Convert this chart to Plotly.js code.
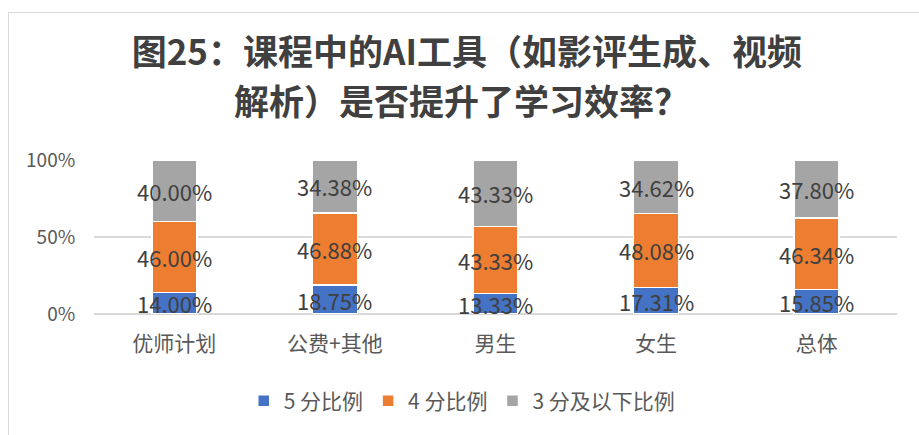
<!DOCTYPE html>
<html>
<head>
<meta charset="utf-8">
<script src="https://cdn.plot.ly/plotly-3.0.1.min.js"></script>
<style>
html,body{margin:0;padding:0;background:#fff;}
#wrap{position:relative;width:919px;height:435px;}
#chart{width:919px;height:435px;}
#frame{position:absolute;left:8px;top:12px;right:-2px;bottom:-2px;border-top:1.5px solid #d9d9d9;border-left:1.5px solid #d9d9d9;pointer-events:none;}
</style>
</head>
<body>
<div id="wrap"><div id="chart"></div><div id="frame"></div></div>
<script>
var categories = ['优师计划', '公费+其他', '男生', '女生', '总体'];
var score5 = [14.00, 18.75, 13.33, 17.31, 15.85];
var score4 = [46.00, 46.88, 43.33, 48.08, 46.34];
var score3 = [40.00, 34.38, 43.33, 34.62, 37.80];
var seriesNames = ['5 分比例', '4 分比例', '3 分及以下比例'];
var seriesColors = ['#4472C4', '#ED7D31', '#A5A5A5'];
var yTickVals = [0, 50, 100];
var yTickText = ['0%', '50%', '100%'];
var titleLine1 = '图25：课程中的AI工具（如影评生成、视频';
var titleLine2 = '解析）是否提升了学习效率？';

var font = '"Noto Sans CJK SC", "Noto Sans", sans-serif';
var series = [score5, score4, score3];
var traces = series.map(function(vals, i){
  return {
    type: 'bar',
    name: seriesNames[i],
    x: categories,
    y: vals,
    marker: {color: seriesColors[i], line: {color: '#ffffff', width: 1.5}},
    hoverinfo: 'skip'
  };
});

// data labels centred in each stacked segment
var annotations = [];
var base = categories.map(function(){ return 0; });
series.forEach(function(vals){
  vals.forEach(function(v, j){
    annotations.push({
      x: categories[j], y: base[j] + v / 2, xref: 'x', yref: 'y',
      text: v.toFixed(2) + '%', showarrow: false,
      xanchor: 'center', yanchor: 'middle',
      font: {family: font, size: 22, color: '#404040'}
    });
    base[j] += v;
  });
});
annotations.push({
  text: '<b>' + titleLine2 + '</b>', showarrow: false,
  xref: 'paper', yref: 'paper', x: 0.458, y: 1.395,
  xanchor: 'center', yanchor: 'middle',
  font: {family: font, size: 35, color: '#404040'}
});

var layout = {
  width: 919, height: 435,
  margin: {l: 94, r: 22, t: 160, b: 121},
  barmode: 'stack',
  bargap: 0.72,
  paper_bgcolor: '#ffffff',
  plot_bgcolor: '#ffffff',
  title: {
    text: '<b>' + titleLine1 + '</b>',
    font: {family: font, size: 35, color: '#404040'},
    x: 0.508, xanchor: 'center', xref: 'container',
    y: 0.878, yanchor: 'middle', yref: 'container'
  },
  annotations: annotations,
  xaxis: {
    type: 'category',
    tickfont: {family: font, size: 21, color: '#595959'},
    ticks: 'outside', ticklen: 11, tickcolor: 'rgba(0,0,0,0)',
    showline: false, showgrid: false, fixedrange: true
  },
  yaxis: {
    range: [0, 100],
    tickvals: yTickVals,
    ticktext: yTickText,
    tickfont: {family: font, size: 19, color: '#595959'},
    ticks: 'outside', ticklen: 14, tickcolor: 'rgba(0,0,0,0)',
    showgrid: true, gridcolor: '#d9d9d9', gridwidth: 1.5,
    zeroline: true, zerolinecolor: '#d9d9d9', zerolinewidth: 1.5,
    showline: false, fixedrange: true
  },
  showlegend: true,
  legend: {
    orientation: 'h',
    xref: 'container', yref: 'container',
    x: 0.503, xanchor: 'center',
    y: 0.078, yanchor: 'middle',
    font: {family: font, size: 21, color: '#595959'},
    itemwidth: 30,
    traceorder: 'normal'
  }
};

Plotly.newPlot('chart', traces, layout, {displayModeBar: false, staticPlot: true});
</script>
</body>
</html>
